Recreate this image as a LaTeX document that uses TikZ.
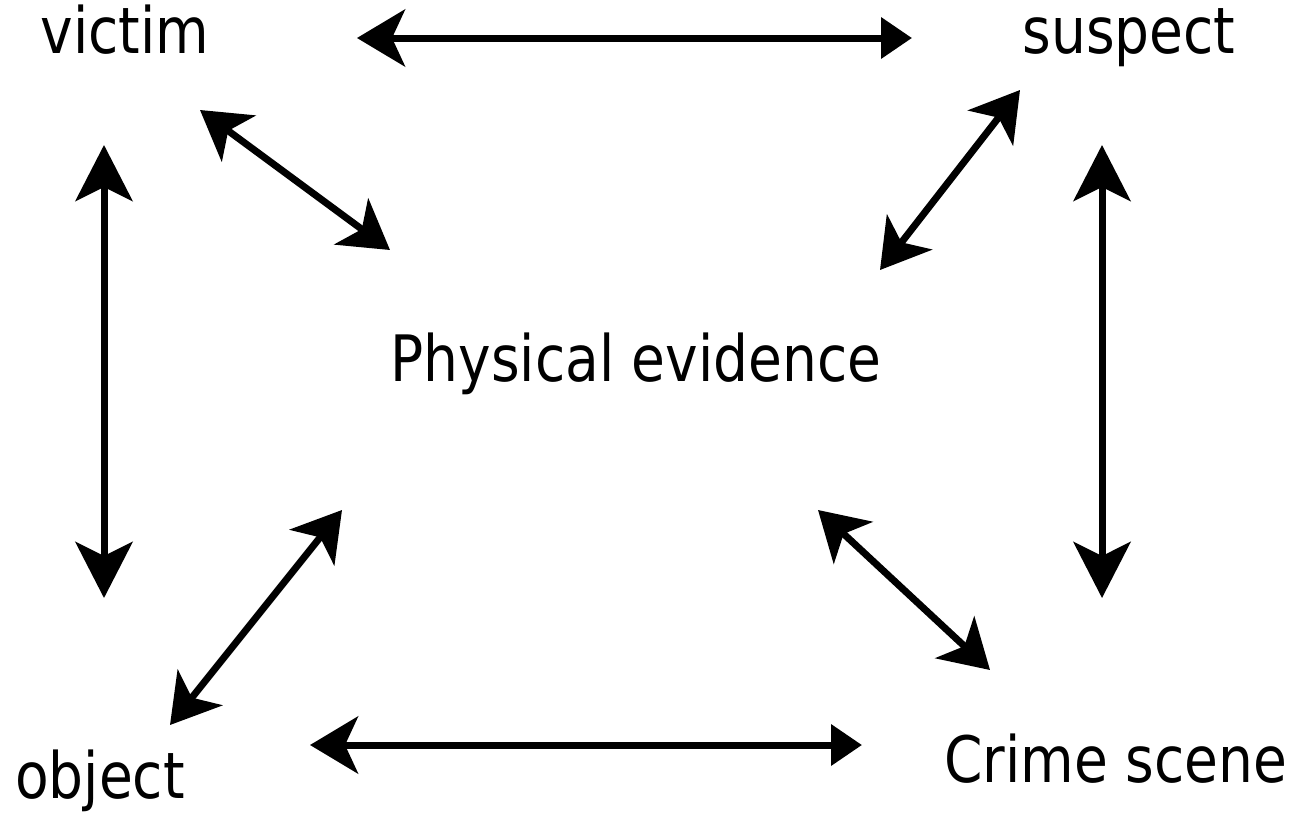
\documentclass[tikz,border=0pt]{standalone}
\usepackage{fontspec}
\setmainfont{DejaVu Sans}[FakeStretch=0.86]
\usetikzlibrary{arrows.meta}
\begin{document}
\begin{tikzpicture}[x=1pt,y=-1pt,
  lbl/.style={anchor=base,inner sep=0pt,font=\fontsize{64}{70}\selectfont},
  link/.style={line width=7pt,{Stealth[length=48pt,width=57pt,inset=13pt]}-{Stealth[length=48pt,width=57pt,inset=13pt]}},
  vlink/.style={line width=7pt,{Stealth[length=56pt,width=57pt,inset=14pt]}-{Stealth[length=56pt,width=57pt,inset=14pt]}},
  hlink/.style={line width=7pt,{Stealth[length=48pt,width=57pt,inset=13pt]}-{Triangle[length=31pt,width=40pt]}}]
\useasboundingbox (0,0) rectangle (1297,812);
\node[lbl] (victim) at (125,53) {victim};
\node[lbl] (suspect) at (1129,53) {suspect};
\node[lbl] (pe) at (636,381) {Physical evidence};
\node[lbl] (object) at (100,798) {object};
\node[lbl] (crime) at (1116,782) {Crime scene};
\coordinate (t1) at (357,38);   \coordinate (t2) at (912,38);
\coordinate (vp1) at (200,110); \coordinate (vp2) at (390,250);
\coordinate (sp1) at (1020,90); \coordinate (sp2) at (880,270);
\coordinate (l1) at (104,145);  \coordinate (l2) at (104,598);
\coordinate (r1) at (1102,145); \coordinate (r2) at (1102,598);
\coordinate (op1) at (170,725); \coordinate (op2) at (342,510);
\coordinate (pc1) at (818,510); \coordinate (pc2) at (990,670);
\coordinate (b1) at (310,745);  \coordinate (b2) at (862,745);
\draw[hlink] (t1) -- (t2);
\draw[link] (vp1) -- (vp2);
\draw[link] (sp1) -- (sp2);
\draw[vlink] (l1) -- (l2);
\draw[vlink] (r1) -- (r2);
\draw[link] (op1) -- (op2);
\draw[link] (pc1) -- (pc2);
\draw[hlink] (b1) -- (b2);
\end{tikzpicture}
\end{document}
